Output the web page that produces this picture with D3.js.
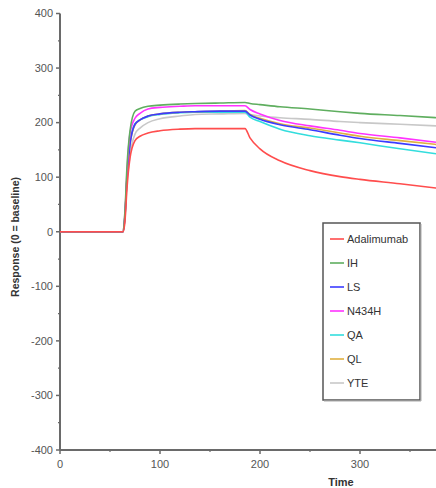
<!DOCTYPE html>
<html><head><meta charset="utf-8">
<script src="https://cdn.jsdelivr.net/npm/d3@7"></script>
<style>body{margin:0;background:#fff}svg{display:block}</style>
</head><body><div id="c"></div>
<script>
const seriesNames = ["Adalimumab","IH","LS","N434H","QA","QL","YTE"];
const seriesColors = ["#ff4d4d","#5fae5f","#3b3bff","#ff33ff","#33dddd","#e0b040","#c8c8c8"];
const times = [0,63,65,67,70,75,80,88,100,120,135,160,185,190,200,220,250,280,300,340,376];
const adalimumab = [0,0,20,80,135,167,175,181,185,188,189,189,189,172,152,130,112,101,96,88,80];
const ih        = [0,0,40,120,185,221,226,230,232,234,235,236,237,235,233,229,225,220,217,213,209];
const ls        = [0,0,30,100,160,197,205,212,216,219,220,221,221,214,206,196,187,177,171,162,154];
const n434h     = [0,0,35,110,180,208,217,225,228,230,231,231,231,224,216,204,194,186,180,172,164];
const qa        = [0,0,30,100,165,198,205,211,215,218,219,219,219,210,202,188,176,168,163,152,143];
const ql        = [0,0,30,100,160,196,205,212,216,219,220,221,222,215,208,198,190,181,175,167,160];
const yte       = [0,0,25,90,140,179,190,200,207,212,215,216,217,215,212,209,206,202,200,197,194];
const allValues = [adalimumab, ih, ls, n434h, qa, ql, yte];
const xTicks = [0,100,200,300];
const xMinor = [50,150,250,350];
const yTicks = [-400,-300,-200,-100,0,100,200,300,400];
const yMinor = [-350,-250,-150,-50,50,150,250,350];

const W = 436, H = 488;
const svg = d3.select("#c").append("svg").attr("width", W).attr("height", H);
const x = d3.scaleLinear().domain([0, 376]).range([60, 436]);
const y = d3.scaleLinear().domain([-400, 400]).range([450, 13.5]);
const font = "Liberation Sans, Arial, sans-serif";
const axisColor = "#6a6a6a";

// axes lines
svg.append("line").attr("x1", x(0)).attr("x2", x(0)).attr("y1", y(400)).attr("y2", y(-400))
  .attr("stroke", axisColor).attr("stroke-width", 2);
svg.append("line").attr("x1", x(0)).attr("x2", W).attr("y1", y(-400)).attr("y2", y(-400))
  .attr("stroke", axisColor).attr("stroke-width", 2);

// y ticks
yTicks.forEach(v => {
  svg.append("line").attr("x1", x(0) - 4).attr("x2", x(0)).attr("y1", y(v)).attr("y2", y(v))
    .attr("stroke", axisColor).attr("stroke-width", 1.5);
  svg.append("text").attr("x", 53).attr("y", y(v)).attr("dy", "0.35em").attr("text-anchor", "end")
    .attr("font-family", font).attr("font-size", 11).attr("fill", "#555").text(v);
});
yMinor.forEach(v => {
  svg.append("line").attr("x1", x(0) - 2).attr("x2", x(0)).attr("y1", y(v)).attr("y2", y(v))
    .attr("stroke", axisColor).attr("stroke-width", 1.2);
});
// x ticks
xTicks.forEach(v => {
  svg.append("line").attr("x1", x(v)).attr("x2", x(v)).attr("y1", y(-400)).attr("y2", y(-400) + 4)
    .attr("stroke", axisColor).attr("stroke-width", 1.5);
  svg.append("text").attr("x", x(v)).attr("y", 468).attr("text-anchor", "middle")
    .attr("font-family", font).attr("font-size", 11).attr("fill", "#555").text(v);
});
xMinor.forEach(v => {
  svg.append("line").attr("x1", x(v)).attr("x2", x(v)).attr("y1", y(-400) - 1).attr("y2", y(-400) + 2)
    .attr("stroke", axisColor).attr("stroke-width", 1.2);
});

// axis titles
svg.append("text").attr("x", 341).attr("y", 486).attr("text-anchor", "middle")
  .attr("font-family", font).attr("font-size", 11).attr("font-weight", "bold").attr("fill", "#333").text("Time");
svg.append("text").attr("transform", "translate(19,237) rotate(-90)").attr("text-anchor", "middle")
  .attr("font-family", font).attr("font-size", 10.5).attr("font-weight", "bold").attr("fill", "#333")
  .text("Response (0 = baseline)");

// curves
const line = d3.line().x(d => x(d[0])).y(d => y(d[1])).curve(d3.curveMonotoneX);
const drawOrder = [6, 4, 5, 2, 3, 1, 0];
drawOrder.forEach(i => {
  const pts = times.map((t, k) => [t, allValues[i][k]]);
  svg.append("path").attr("d", line(pts)).attr("fill", "none")
    .attr("stroke", seriesColors[i]).attr("stroke-width", 1.6);
});

// legend
const lg = svg.append("g");
lg.append("rect").attr("x", 323).attr("y", 223).attr("width", 97).attr("height", 177)
  .attr("fill", "#fff").attr("stroke", "#555").attr("stroke-width", 1.5);
lg.append("line").attr("x1", 324).attr("x2", 421).attr("y1", 401).attr("y2", 401).attr("stroke", "#aaa").attr("stroke-width", 1);
lg.append("line").attr("x1", 421).attr("x2", 421).attr("y1", 224).attr("y2", 401).attr("stroke", "#aaa").attr("stroke-width", 1);
seriesNames.forEach((n, i) => {
  const yy = 239 + i * 24;
  lg.append("line").attr("x1", 330).attr("x2", 344).attr("y1", yy).attr("y2", yy)
    .attr("stroke", seriesColors[i]).attr("stroke-width", 1.6);
  lg.append("text").attr("x", 347).attr("y", yy).attr("dy", "0.35em")
    .attr("font-family", font).attr("font-size", 11).attr("fill", "#333").text(n);
});
</script></body></html>
